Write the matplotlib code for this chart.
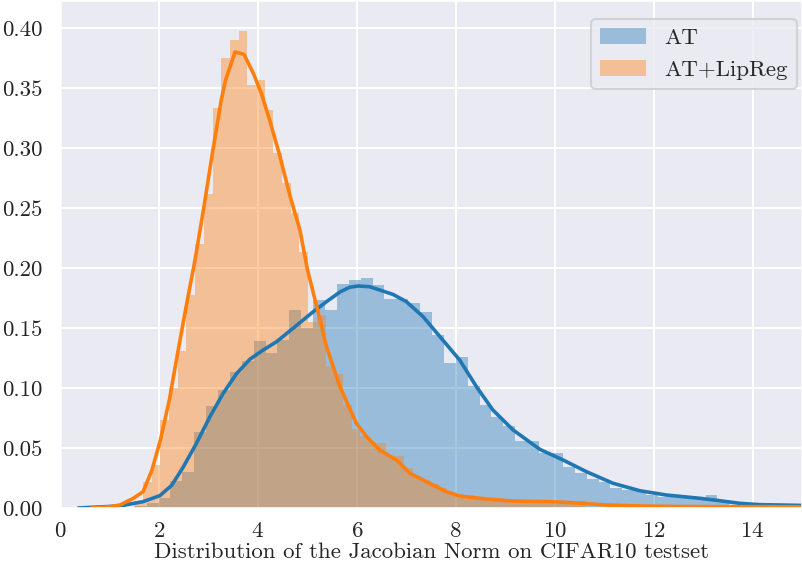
import numpy as np
import matplotlib
matplotlib.use("Agg")
import matplotlib.pyplot as plt
import seaborn as sns
from matplotlib.ticker import MultipleLocator


# histogram bins (density)
AT_BIN_START = 1.511
AT_BIN_WIDTH = 0.2404
at_heights = [
    0.002, 0.004, 0.008, 0.0225, 0.030, 0.063, 0.085, 0.098, 0.113, 0.1225,
    0.139, 0.129, 0.140, 0.165, 0.150, 0.173, 0.165, 0.187, 0.190, 0.192,
    0.186, 0.174, 0.174, 0.171, 0.163, 0.144, 0.121, 0.1256, 0.102, 0.086,
    0.076, 0.068, 0.056, 0.056, 0.046, 0.046, 0.034, 0.029, 0.024, 0.022,
    0.017, 0.015, 0.015, 0.011, 0.009, 0.009, 0.008, 0.008, 0.011, 0.005,
]

LIP_BIN_START = 1.501
LIP_BIN_WIDTH = 0.1758
lip_heights = [
    0.006, 0.022, 0.036, 0.073, 0.100, 0.131, 0.1775, 0.220, 0.262, 0.333,
    0.375, 0.390, 0.3975, 0.3525, 0.3567, 0.332, 0.296, 0.271, 0.2456, 0.213,
    0.155, 0.161, 0.118, 0.112, 0.086, 0.066, 0.060, 0.054, 0.054, 0.043,
    0.043, 0.033, 0.0256, 0.023, 0.020, 0.017, 0.012, 0.011, 0.010, 0.008,
    0.008, 0.007, 0.0067, 0.0065, 0.006, 0.006, 0.007, 0.005, 0.004, 0.004,
    0.003, 0.006,
]

# kde curves
at_kde_x = [0.37, 1.21, 1.68, 2.02, 2.26, 2.49, 2.76, 3.03, 3.30, 3.57, 3.84,
            4.11, 4.38, 4.71, 5.12, 5.39, 5.66, 5.86, 6.03, 6.26, 6.73, 7.00,
            7.34, 7.68, 8.08, 8.42, 8.75, 9.16, 9.70, 10.17, 10.64, 11.18,
            11.72, 12.26, 12.93, 13.33, 13.74, 14.14, 14.95, 15.3]
at_kde_y = [0.0, 0.0017, 0.0053, 0.0103, 0.019, 0.034, 0.054, 0.076, 0.0956,
            0.112, 0.124, 0.1317, 0.1386, 0.1497, 0.1636, 0.172, 0.180, 0.184,
            0.185, 0.1844, 0.178, 0.172, 0.1594, 0.1428, 0.1233, 0.101, 0.0817,
            0.065, 0.0489, 0.040, 0.0303, 0.0206, 0.0144, 0.0108, 0.0081,
            0.0061, 0.0039, 0.0028, 0.0022, 0.002]

lip_kde_x = [0.64, 1.0, 1.21, 1.48, 1.68, 1.86, 2.03, 2.21, 2.39, 2.56, 2.73,
             2.91, 3.09, 3.26, 3.35, 3.54, 3.72, 3.91, 4.07, 4.24, 4.44, 4.65,
             4.85, 5.0, 5.19, 5.39, 5.66, 5.99, 6.20, 6.46, 6.80, 7.07, 7.47,
             7.81, 8.08, 8.62, 9.16, 9.90, 10.37, 11.04, 11.72, 12.53, 15.3]
lip_kde_y = [0.0, 0.001, 0.0025, 0.008, 0.0136, 0.0317, 0.0567, 0.090, 0.1317,
             0.170, 0.2067, 0.251, 0.298, 0.340, 0.357, 0.380, 0.378, 0.362,
             0.3456, 0.323, 0.294, 0.260, 0.2317, 0.199, 0.168, 0.134, 0.101,
             0.0706, 0.0594, 0.0483, 0.040, 0.029, 0.0206, 0.0136, 0.010,
             0.0075, 0.0058, 0.0053, 0.0044, 0.0025, 0.0017, 0.0012, 0.001]


sns.set_theme(style="darkgrid", context="talk")
plt.rcParams["font.family"] = "cmr10"
plt.rcParams["mathtext.fontset"] = "cm"
plt.rcParams["axes.formatter.use_mathtext"] = True

fig = plt.figure(figsize=(8.02, 5.66), dpi=100)
ax = fig.add_axes([60 / 802, 58 / 566, 742 / 802, 508 / 566])

at_edges = AT_BIN_START + AT_BIN_WIDTH * np.arange(len(at_heights) + 1)
lip_edges = LIP_BIN_START + LIP_BIN_WIDTH * np.arange(len(lip_heights) + 1)

ax.hist(at_edges[:-1], bins=at_edges, weights=at_heights,
        color="#1f77b4", alpha=0.4, edgecolor="none", linewidth=0, label="AT")
ax.plot(at_kde_x, at_kde_y, color="#1f77b4", lw=2.6)

ax.hist(lip_edges[:-1], bins=lip_edges, weights=lip_heights,
        color="#ff7f0e", alpha=0.4, edgecolor="none", linewidth=0,
        label="AT+LipReg")
ax.plot(lip_kde_x, lip_kde_y, color="#ff7f0e", lw=2.6)

ax.set_xlim(0, 15)
ax.set_ylim(0, 0.4233)
ax.xaxis.set_major_locator(MultipleLocator(2))
ax.yaxis.set_major_locator(MultipleLocator(0.05))
ax.yaxis.set_major_formatter(matplotlib.ticker.FormatStrFormatter("%.2f"))
ax.tick_params(labelsize=16.5)
ax.tick_params(axis="x", pad=1)
ax.set_xlabel("Distribution of the Jacobian Norm on CIFAR10 testset",
              fontsize=16.5, labelpad=1)

ax.legend(loc="upper right", bbox_to_anchor=(797 / 802, 547 / 566),
          bbox_transform=fig.transFigure, borderaxespad=0, fontsize=16.5)

fig.savefig("out.png", dpi=100)
